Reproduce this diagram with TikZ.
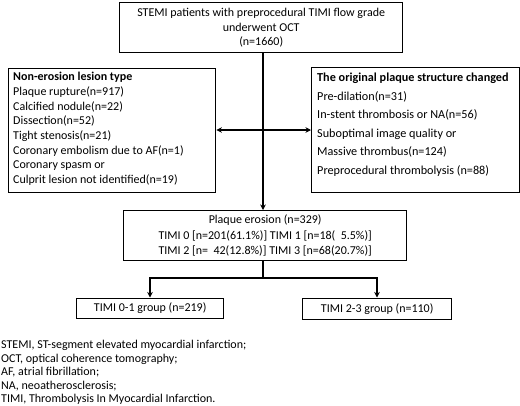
\documentclass[tikz,border=0pt]{standalone}
\usepackage{fontspec}
\setmainfont{Carlito}
\usetikzlibrary{arrows.meta}
\begin{document}
\begin{tikzpicture}[x=1pt,y=-1pt,
  box/.style={draw,line width=1.4pt,inner sep=0pt,anchor=north west},
  txt/.style={inner sep=0pt,font=\fontsize{12}{14.5}\selectfont},
  arr/.style={line width=1.2pt,-{Stealth[length=5.5pt,width=5.5pt]}},
  ln/.style={line width=1.2pt}]
\useasboundingbox (0,0) rectangle (520,405);
% boxes
\node[box,minimum width=283pt,minimum height=50pt] (top) at (119,2) {};
\node[txt,align=center] (toptxt) at (top.center) {STEMI patients with preprocedural TIMI flow grade\\underwent OCT\\(n=1660)};
\node[box,minimum width=207pt,minimum height=124pt] (left) at (8,68) {};
\node[txt,align=left,anchor=north west,font=\fontsize{12}{14.7}\selectfont] (lefttxt) at (13,72) {\textbf{Non-erosion lesion type}\\Plaque rupture(n=917)\\Calcified nodule(n=22)\\Dissection(n=52)\\Tight stenosis(n=21)\\Coronary embolism due to AF(n=1)\\Coronary spasm or\\Culprit lesion not identified(n=19)};
\node[box,minimum width=208pt,minimum height=125pt] (right) at (311,67) {};
\node[txt,align=left,anchor=north west,font=\fontsize{12.2}{18.5}\selectfont] (righttxt) at (317,73) {\textbf{The original plaque structure changed}\\Pre-dilation(n=31)\\In-stent thrombosis or NA(n=56)\\Suboptimal image quality or\\Massive thrombus(n=124)\\Preprocedural thrombolysis (n=88)};
\node[box,minimum width=283pt,minimum height=50pt] (plq) at (123,210) {};
\node[txt,align=center,font=\fontsize{12}{15.5}\selectfont] (plqtxt) at (plq.center) {Plaque erosion (n=329)\\TIMI 0 [n=201(61.1\%)] TIMI 1 [n=18(\ \ 5.5\%)]\\TIMI 2 [n=\ \ 42(12.8\%)] TIMI 3 [n=68(20.7\%)]};
\node[box,minimum width=147pt,minimum height=20pt] (g01) at (76,297.5) {};
\node[txt] (g01txt) at (g01.center) {TIMI 0-1 group (n=219)};
\node[box,minimum width=149pt,minimum height=21pt] (g23) at (302,297.5) {};
\node[txt] (g23txt) at (g23.center) {TIMI 2-3 group (n=110)};
\node[txt,align=left,anchor=north west,font=\fontsize{12}{13.6}\selectfont] (notes) at (1,340) {STEMI, ST-segment elevated myocardial infarction;\\OCT, optical coherence tomography;\\AF, atrial fibrillation;\\NA, neoatherosclerosis;\\TIMI, Thrombolysis In Myocardial Infarction.};
% connectors
\coordinate (mid) at (263,130);
\coordinate (split) at (263,278);
\draw[arr] (top.south -| mid) -- (plq.north -| mid);
\draw[arr] (mid) -- (left.east |- mid);
\draw[arr] (mid) -- (right.west |- mid);
\draw[ln] (plq.south -| split) -- (split);
\draw[arr] (split) -| (g01.north -| 150,0);
\draw[arr] (split) -| (g23.north -| 377,0);
\end{tikzpicture}
\end{document}
